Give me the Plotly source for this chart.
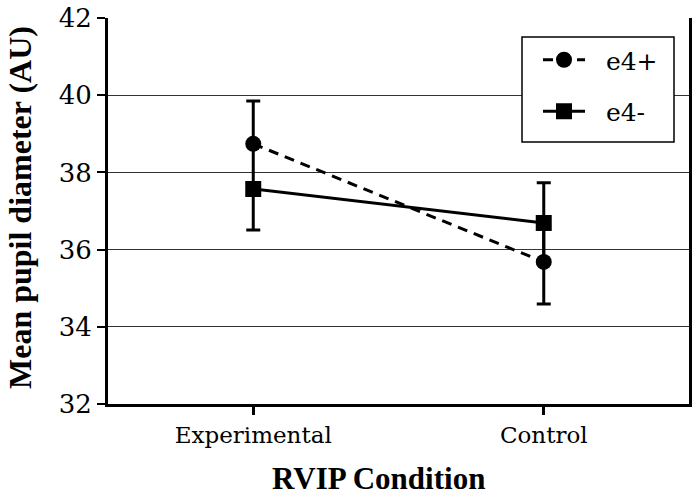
import plotly.graph_objects as go

categories = ["Experimental", "Control"]
e4_pos = [38.74, 35.68]
e4_pos_err = [1.11, 1.09]
e4_neg = [37.57, 36.69]
e4_neg_err_up = [0.0, 1.04]
e4_neg_err_down = [1.06, 1.04]
y_ticks = [32, 34, 36, 38, 40, 42]
series_names = ["\u00a0\u00a0e4+", "\u00a0\u00a0e4-"]

FONT = "DejaVu Serif"
FONT_B = "Liberation Serif"

W, H = 698, 500
L, T, R, B = 108, 18, 9, 96

fig = go.Figure()
fig.add_trace(go.Scatter(
    x=categories, y=e4_pos, name=series_names[0], mode="lines+markers", legendgroup="a",
    line=dict(color="black", width=3, dash="10px,7px"),
    marker=dict(symbol="circle", size=16, color="black"),
    error_y=dict(type="data", array=e4_pos_err, symmetric=True,
                 color="black", thickness=3, width=7),
))
fig.add_trace(go.Scatter(
    x=categories, y=e4_neg, name=series_names[1], mode="lines+markers", legendgroup="b",
    line=dict(color="black", width=3),
    marker=dict(symbol="square", size=16, color="black"),
    error_y=dict(type="data", array=e4_neg_err_up, arrayminus=e4_neg_err_down,
                 symmetric=False, color="black", thickness=3, width=7),
))

pw, ph = W - L - R, H - T - B

def px_x(x):
    return (x - L) / pw

def px_y(y):
    return (H - B - y) / ph

fig.update_layout(
    width=W, height=H,
    margin=dict(l=L, r=R, t=T, b=B),
    paper_bgcolor="white", plot_bgcolor="white",
    font=dict(family=FONT, size=22, color="black"),
    showlegend=True,
    legend=dict(
        x=px_x(538), y=px_y(37), xanchor="left", yanchor="top",
        bgcolor="rgba(0,0,0,0)", borderwidth=0,
        font=dict(family=FONT, size=25, color="black"),
        itemwidth=42, tracegroupgap=16,
    ),
    xaxis=dict(
        type="category", range=[-0.5, 1.5], automargin=False,
        showline=True, linecolor="black", linewidth=3,
        ticks="outside", ticklen=8, tickwidth=3, tickcolor="black",
        showgrid=False, zeroline=False,
        tickfont=dict(family=FONT, size=23),
    ),
    yaxis=dict(
        range=[32, 42], tickvals=y_ticks, automargin=False, ticklabeloverflow="allow",
        showline=True, mirror=True, linecolor="black", linewidth=3,
        ticks="outside", ticklen=8, tickwidth=2, tickcolor="black",
        showgrid=True, gridcolor="#333333", gridwidth=1.2, zeroline=False,
        tickfont=dict(family=FONT, size=26),
    ),
    shapes=[
        dict(type="rect", xref="paper", yref="paper", layer="above",
             x0=px_x(522), x1=px_x(674), y0=px_y(142), y1=px_y(37),
             fillcolor="white", line=dict(color="black", width=1.5)),
    ],
    annotations=[
        dict(text="<b>RVIP Condition</b>", xref="paper", yref="paper",
             x=px_x(378), y=px_y(478), xanchor="center", yanchor="middle",
             showarrow=False, font=dict(family=FONT_B, size=31)),
        dict(text="<b>Mean pupil diameter (AU)</b>", xref="paper", yref="paper",
             x=px_x(20), y=px_y(208), xanchor="center", yanchor="middle", textangle=-90,
             showarrow=False, font=dict(family=FONT_B, size=32)),
    ],
)

fig.write_html("out.html", config={"displayModeBar": False},
               post_script="document.body.style.margin='0';document.body.style.padding='0';")
